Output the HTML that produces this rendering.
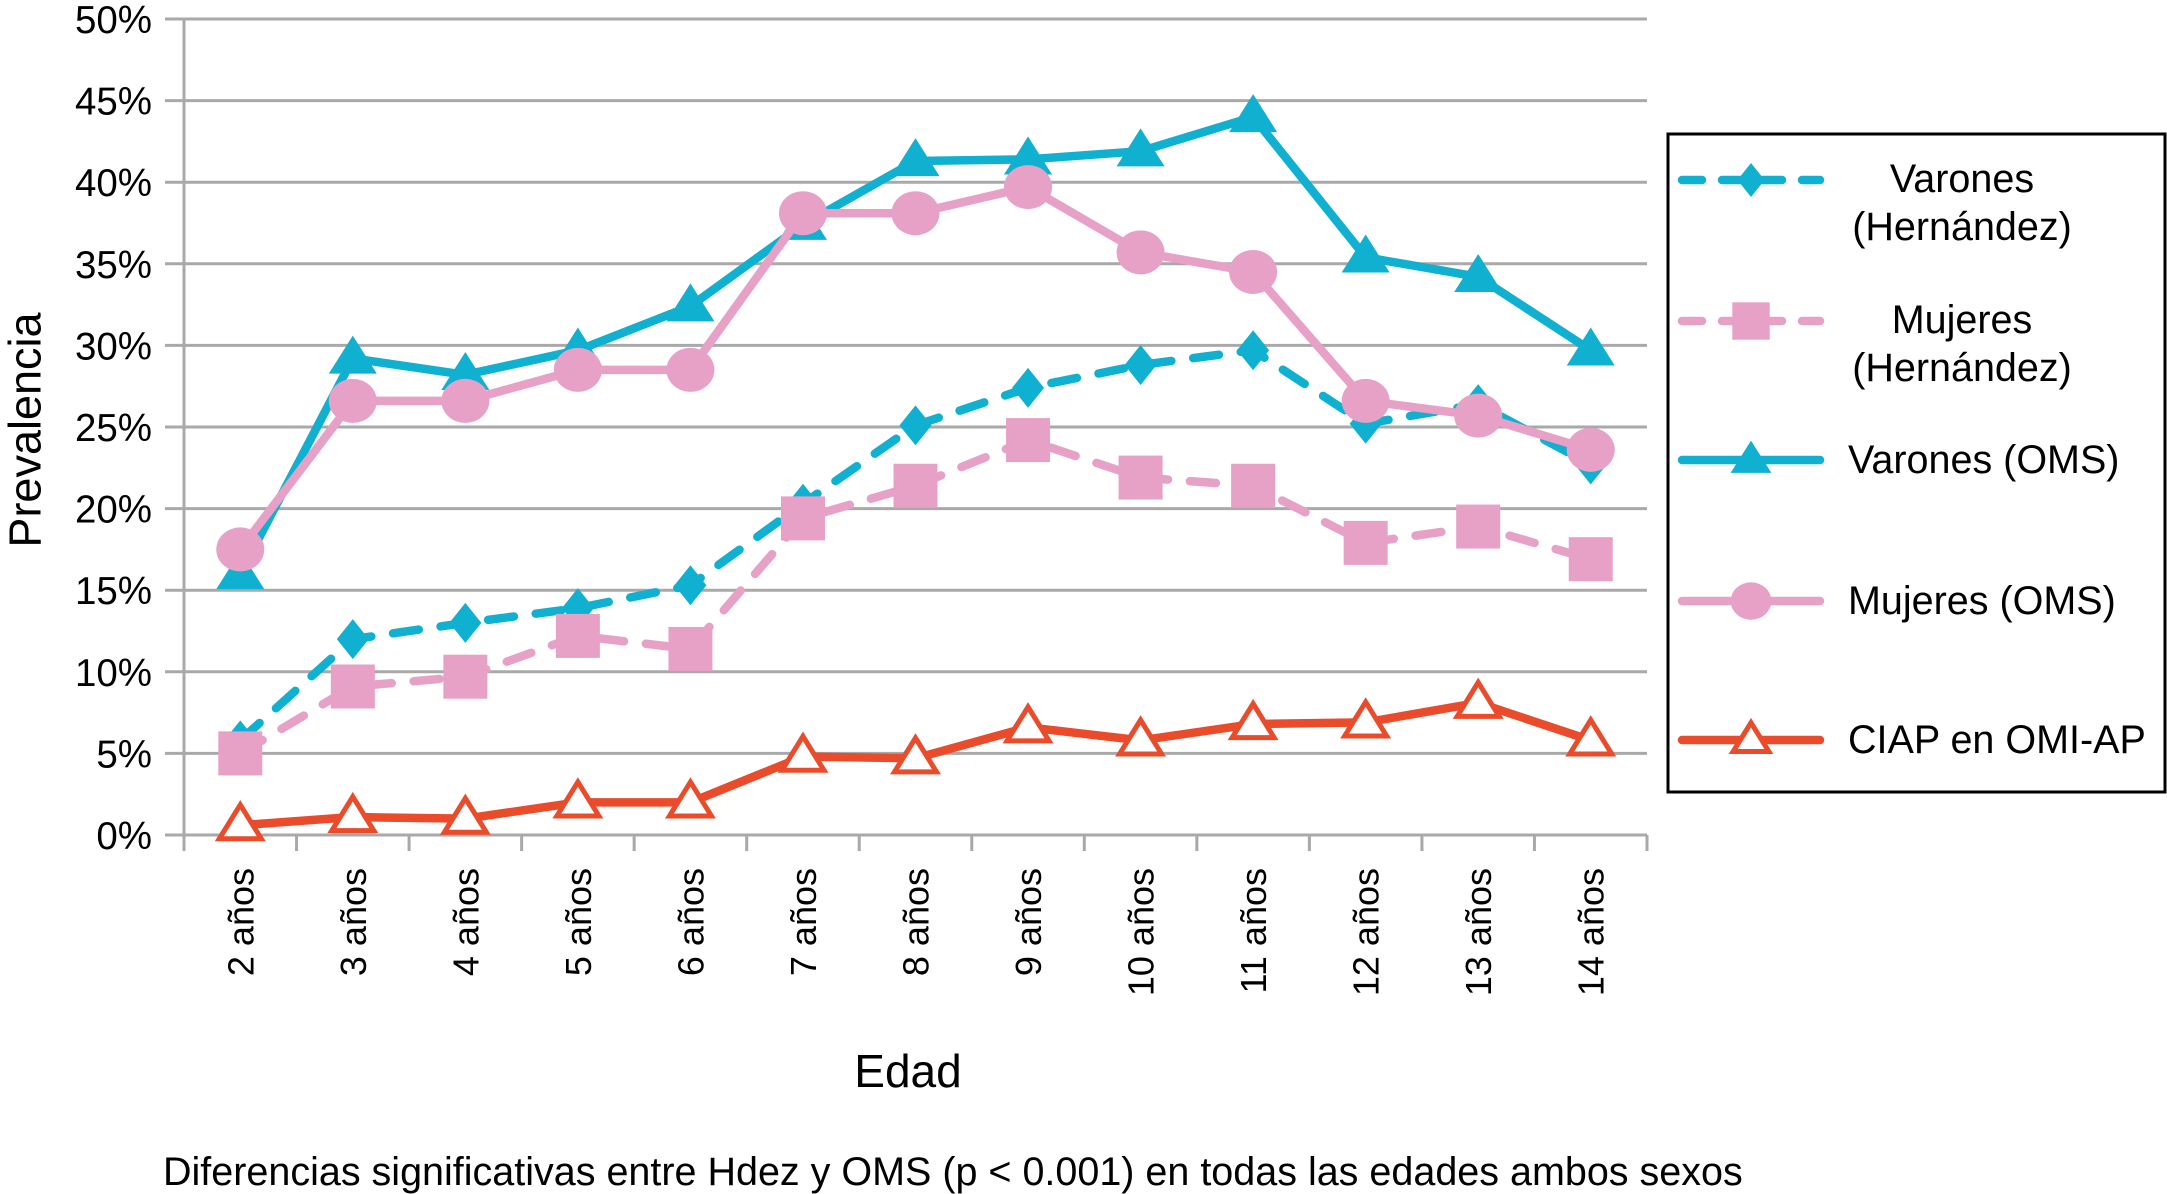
<!DOCTYPE html>
<html><head><meta charset="utf-8"><style>
html,body{margin:0;padding:0;background:#fff;}
svg{display:block;font-family:"Liberation Sans",sans-serif;}
</style></head><body>
<svg id="chart" width="2167" height="1194" viewBox="0 0 2167 1194">
<g id="grid"></g>
<g id="axes"></g>
<g id="series"></g>
<text x="25" y="430" font-size="45" text-anchor="middle" transform="rotate(-90 25 430)" dominant-baseline="central">Prevalencia</text>
<text x="908" y="1087" font-size="46" text-anchor="middle">Edad</text>
<text x="163" y="1185" font-size="39.5">Diferencias significativas entre Hdez y OMS (p &lt; 0.001) en todas las edades ambos sexos</text>
<g id="legend">
<rect x="1668" y="134" width="497" height="658" fill="#fff" stroke="#000" stroke-width="3"/>
</g>
</svg>
<script>
const categories = ["2 años","3 años","4 años","5 años","6 años","7 años","8 años","9 años","10 años","11 años","12 años","13 años","14 años"];
const yTicks = [0,5,10,15,20,25,30,35,40,45,50];
const varonesHern = [5.8,12.0,13.0,13.9,15.3,20.3,25.1,27.4,28.8,29.7,25.2,26.4,22.7];
const mujeresHern = [5.0,9.1,9.7,12.2,11.4,19.4,21.4,24.2,21.9,21.4,17.9,18.9,16.9];
const varonesOMS = [16.0,29.2,28.2,29.7,32.4,37.4,41.3,41.4,41.9,44.0,35.4,34.2,29.7];
const mujeresOMS = [17.5,26.6,26.6,28.5,28.5,38.1,38.1,39.7,35.7,34.5,26.6,25.7,23.6];
const ciap = [0.6,1.1,1.0,2.0,2.0,4.8,4.7,6.6,5.8,6.8,6.9,8.1,5.8];

const NS="http://www.w3.org/2000/svg";
const X0=184, X1=1647, Y0=835, Y50=19;
const step=(X1-X0)/categories.length;
const xS=i=>X0+step*(i+0.5);
const yS=v=>Y0-(v/50)*(Y0-Y50);
function mk(tag,attrs,parent){const e=document.createElementNS(NS,tag);for(const k in attrs)e.setAttribute(k,attrs[k]);parent.appendChild(e);return e;}
const grid=document.getElementById('grid'),axes=document.getElementById('axes'),series=document.getElementById('series'),legend=document.getElementById('legend');

yTicks.forEach(t=>{
  const y=yS(t);
  if(t>0){const l=mk('line',{x1:X0,x2:X1,y1:y,y2:y,stroke:'#a9a9a9','stroke-width':3},grid);
  
  }
  const tk=mk('line',{x1:165,x2:X0,y1:y,y2:y,stroke:'#a9a9a9','stroke-width':3},axes);
  
  
  const tx=mk('text',{x:152,y:y+14,'font-size':38.5,'text-anchor':'end'},axes);
  tx.textContent=t+'%';
  
  
});
let a=mk('line',{x1:X0,x2:X0,y1:Y50,y2:Y0+15,stroke:'#a9a9a9','stroke-width':3},axes);


a=mk('line',{x1:X0,x2:X1,y1:Y0,y2:Y0,stroke:'#a9a9a9','stroke-width':3},axes);


for(let i=0;i<=categories.length;i++){
  const x=X0+step*i;
  const t=mk('line',{x1:x,x2:x,y1:Y0,y2:Y0+16,stroke:'#a9a9a9','stroke-width':3},axes);
  
  
}
categories.forEach((c,i)=>{
  const x=xS(i)+13, y=868;
  const t=mk('text',{x:x,y:y,'font-size':36,'text-anchor':'end',transform:`rotate(-90 ${x} ${y})`},axes);
  t.textContent=c;
  
  
});

function marker(type,x,y,color,g,scale){
  scale=scale||1;let e;
  if(type==='diamond'){const r=20*scale;e=mk('polygon',{points:`${x},${y-r} ${x+r*0.8},${y} ${x},${y+r} ${x-r*0.8},${y}`,fill:color},g);}
  else if(type==='square'){const s=22*scale;e=mk('rect',{x:x-s,y:y-s,width:2*s,height:2*s,fill:color},g);}
  else if(type==='circle'){e=mk('ellipse',{cx:x,cy:y,rx:24*scale,ry:22*scale,fill:color},g);}
  else if(type==='tri'){const w=24*scale,h=38*scale;e=mk('polygon',{points:`${x},${y-h*0.6} ${x+w},${y+h*0.4} ${x-w},${y+h*0.4}`,fill:color},g);}
  else if(type==='tri-open'){const w=21*scale,h=34*scale;e=mk('polygon',{points:`${x},${y-h*0.6} ${x+w},${y+h*0.4} ${x-w},${y+h*0.4}`,fill:'#fff',stroke:color,'stroke-width':5},g);}
  return e;
}
const defs=[
 {name:'varones-hernandez',data:varonesHern,color:'#10b1d0',dash:'26 22',m:'diamond',label:['Varones','(Hernández)'],ly:180},
 {name:'mujeres-hernandez',data:mujeresHern,color:'#e7a1c7',dash:'26 22',m:'square',label:['Mujeres','(Hernández)'],ly:321},
 {name:'varones-oms',data:varonesOMS,color:'#10b1d0',dash:null,m:'tri',label:['Varones (OMS)'],ly:460},
 {name:'mujeres-oms',data:mujeresOMS,color:'#e7a1c7',dash:null,m:'circle',label:['Mujeres (OMS)'],ly:601},
 {name:'ciap-omi-ap',data:ciap,color:'#ea4b2a',dash:null,m:'tri-open',label:['CIAP en OMI-AP'],ly:740}
];
defs.forEach(d=>{
  const g=mk('g',{},series);
  
  
  const pts=d.data.map((v,i)=>xS(i)+','+yS(v)).join(' ');
  const pl=mk('polyline',{points:pts,fill:'none',stroke:d.color,'stroke-width':8.5,'stroke-linejoin':'round','stroke-linecap':'round'},g);
  if(d.dash)pl.setAttribute('stroke-dasharray',d.dash);
  
  
  d.data.forEach((v,i)=>{
    const m=marker(d.m,xS(i),yS(v),d.color,g);
    
    
  });
  const lg=mk('g',{},legend);
  
  
  const ll=mk('line',{x1:1682,x2:1820,y1:d.ly,y2:d.ly,stroke:d.color,'stroke-width':8.5,'stroke-linecap':'round'},lg);
  if(d.dash)ll.setAttribute('stroke-dasharray','20 20');
  marker(d.m,1751,d.ly,d.color,lg,0.85);
  if(d.label.length===2){
    const t1=mk('text',{x:1962,y:d.ly+12,'font-size':39.5,'text-anchor':'middle'},lg);t1.textContent=d.label[0];
    const t2=mk('text',{x:1962,y:d.ly+60,'font-size':39.5,'text-anchor':'middle'},lg);t2.textContent=d.label[1];
  } else {
    const t=mk('text',{x:1848,y:d.ly+13,'font-size':39.5},lg);t.textContent=d.label[0];
  }
});
</script>
</body></html>
